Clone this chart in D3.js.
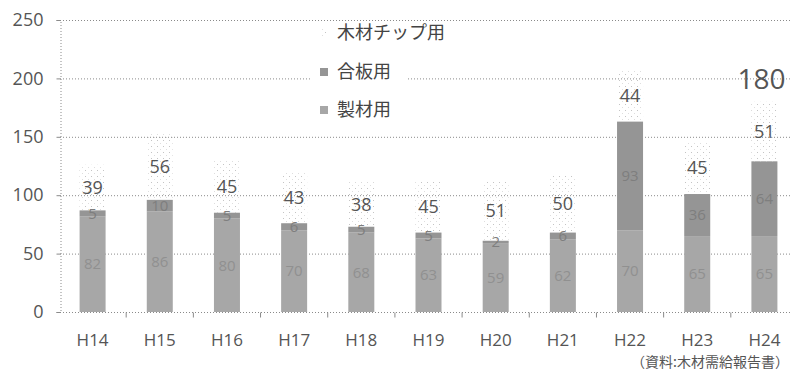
<!DOCTYPE html>
<html>
<head>
<meta charset="utf-8">
<script src="https://cdn.jsdelivr.net/npm/d3@7"></script>
<style>
  html, body { margin: 0; padding: 0; background: #fff; }
  svg { display: block; font-family: "Noto Sans CJK JP", "Noto Sans", sans-serif; }
</style>
</head>
<body>
<svg id="chart" width="791" height="376"></svg>
<script>
// Wood demand by use, H14–H24
const years = ["H14","H15","H16","H17","H18","H19","H20","H21","H22","H23","H24"];
const seizai = [82, 86, 80, 70, 68, 63, 59, 62, 70, 65, 65];   // 製材用
const gouhan = [5, 10, 5, 6, 5, 5, 2, 6, 93, 36, 64];          // 合板用
const chip   = [39, 56, 45, 43, 38, 45, 51, 50, 44, 45, 51];   // 木材チップ用
const yTicks = [0, 50, 100, 150, 200, 250];
const seriesNames = ["製材用", "合板用", "木材チップ用"];
const sourceNote = "（資料:木材需給報告書）";

const svg = d3.select("#chart");
const W = 791, H = 376;

const x = d3.scaleBand().domain(years).range([59, 798]).padding(0);
const y = d3.scaleLinear().domain([0, 250]).range([312, 20]);
const barW = 26;

// sparse dot pattern for the chip segment
const defs = svg.append("defs");
const pat = defs.append("pattern").attr("id", "chipPat")
  .attr("width", 6).attr("height", 6).attr("patternUnits", "userSpaceOnUse");
pat.append("rect").attr("x", 1).attr("y", 2).attr("width", 1).attr("height", 1).attr("fill", "#c4c4c4");
pat.append("rect").attr("x", 4).attr("y", 5).attr("width", 1).attr("height", 1).attr("fill", "#dedede");

// gridlines
svg.append("g").selectAll("line").data(yTicks.filter(d => d > 0)).join("line")
  .attr("x1", 60).attr("x2", W).attr("y1", d => y(d) + 0.5).attr("y2", d => y(d) + 0.5)
  .attr("stroke", "#8a8a8a").attr("stroke-width", 1).attr("stroke-dasharray", "1,2");

// y axis
const yAxis = d3.axisLeft(y).tickValues(yTicks).tickSize(4).tickPadding(13);
const gy = svg.append("g").attr("transform", "translate(60.5,0)").call(yAxis);
gy.select(".domain").attr("stroke", "#8a8a8a").attr("stroke-dasharray", "1,2");
gy.selectAll(".tick line").attr("stroke", "#8a8a8a");
gy.selectAll(".tick text").attr("font-size", 18).attr("fill", "#555")
  .attr("font-family", "'Open Sans', sans-serif");

// x axis
const gx = svg.append("g").attr("transform", "translate(0,312.5)");
gx.append("line").attr("x1", 60).attr("x2", W).attr("stroke", "#8a8a8a").attr("stroke-dasharray", "1,2");
gx.selectAll("line.tk").data(years.slice(1)).join("line").attr("class", "tk")
  .attr("x1", d => x(d)).attr("x2", d => x(d)).attr("y1", 0).attr("y2", 5)
  .attr("stroke", "#8a8a8a");
gx.selectAll("text").data(years).join("text")
  .attr("x", d => x(d) + x.bandwidth() / 2).attr("y", 28).attr("dy", "0.35em")
  .attr("text-anchor", "middle").attr("font-size", 17).attr("fill", "#555")
  .attr("font-family", "'Open Sans', sans-serif")
  .text(d => d);

// stacked bars
const rows = years.map((yr, i) => ({ yr, 製材用: seizai[i], 合板用: gouhan[i], 木材チップ用: chip[i] }));
const stack = d3.stack().keys(seriesNames)(rows);
const fills = { "製材用": "#a7a7a7", "合板用": "#959595", "木材チップ用": "url(#chipPat)" };
const labelFills = { "製材用": "#909090", "合板用": "#7e7e7e", "木材チップ用": "#555" };

const layers = svg.append("g").selectAll("g").data(stack).join("g")
  .attr("fill", d => fills[d.key]);
layers.selectAll("rect").data(d => d).join("rect")
  .attr("x", d => x(d.data.yr) + (x.bandwidth() - barW) / 2)
  .attr("width", barW)
  .attr("y", d => y(d[1]))
  .attr("height", d => y(d[0]) - y(d[1]));

// segment labels
stack.forEach(layer => {
  const isChip = layer.key === "木材チップ用";
  svg.append("g").selectAll("text").data(layer).join("text")
    .attr("x", d => x(d.data.yr) + x.bandwidth() / 2)
    .attr("y", d => y((d[0] + d[1]) / 2))
    .attr("dy", "0.35em")
    .attr("text-anchor", "middle")
    .attr("font-size", isChip ? 18 : 15)
    .attr("fill", labelFills[layer.key])
    .attr("font-family", "'Open Sans', sans-serif")
    .text(d => d[1] - d[0]);
});

// total label for the last year
const lastIdx = years.length - 1;
const lastTotal = seizai[lastIdx] + gouhan[lastIdx] + chip[lastIdx];
svg.append("text")
  .attr("x", x(years[lastIdx]) + x.bandwidth() / 2 - 3)
  .attr("y", y(200) + 1).attr("dy", "0.35em")
  .attr("text-anchor", "middle").attr("font-size", 28).attr("fill", "#555")
  .attr("font-family", "'Open Sans', sans-serif")
  .text(lastTotal);

// legend (white backing behind the entries only)
const lg = svg.append("g");
lg.append("rect").attr("x", 312).attr("y", 22).attr("width", 150).attr("height", 24).attr("fill", "#fff");
lg.append("rect").attr("x", 312).attr("y", 46).attr("width", 96).attr("height", 78).attr("fill", "#fff");
const legendItems = ["木材チップ用", "合板用", "製材用"];
const legendY = [33, 72, 110];
legendItems.forEach((name, i) => {
  lg.append("rect").attr("x", 320).attr("y", legendY[i] - 4).attr("width", 8).attr("height", 8)
    .attr("fill", fills[name]);
  lg.append("text").attr("x", 337).attr("y", legendY[i]).attr("dy", "0.35em")
    .attr("font-size", 18).attr("fill", "#444").text(name);
});

// source note
svg.append("text").attr("x", 789).attr("y", 362).attr("dy", "0.35em")
  .attr("text-anchor", "end").attr("font-size", 14).attr("fill", "#555")
  .text(sourceNote);
</script>
</body>
</html>
